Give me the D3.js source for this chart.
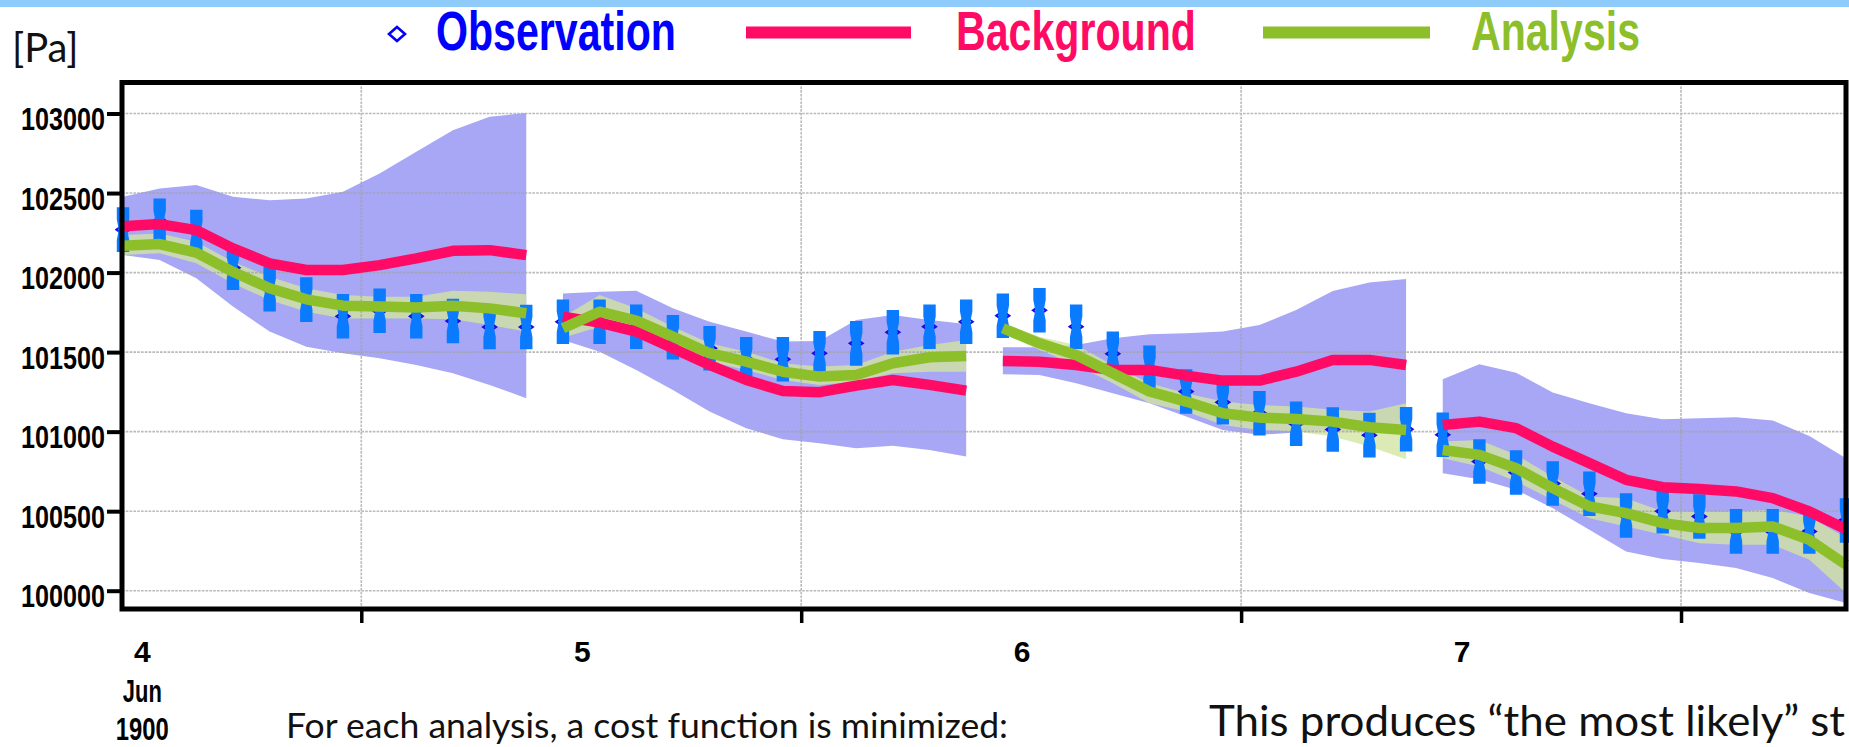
<!DOCTYPE html>
<html>
<head>
<meta charset="utf-8">
<script src="https://cdn.jsdelivr.net/npm/d3@7"></script>
<style>
  html, body { margin: 0; padding: 0; background: #fff; overflow: hidden; }
  svg { display: block; }
</style>
</head>
<body>
<svg id="chart" width="1849" height="747"></svg>
<script>
// Surface pressure [Pa], four 24-hour assimilation windows, one observation every 2 hours.
// Hours are counted from 4 Jun 1900 00:00.
const hours = [-1, 1, 3, 5, 7, 9, 11, 13, 15, 17, 19, 21,
               23, 25, 27, 29, 31, 33, 35, 37, 39, 41, 43, 45,
               47, 49, 51, 53, 55, 57, 59, 61, 63, 65, 67, 69,
               71, 73, 75, 77, 79, 81, 83, 85, 87, 89, 91, 93];
const windowLength = 12;

const observation = [
  102270, 102325, 102255, 102030, 101895, 101830, 101725, 101760, 101725, 101695, 101658, 101658,
  101691, 101691, 101660, 101593, 101524, 101455, 101455, 101493, 101555, 101625, 101660, 101691,
  101729, 101763, 101660, 101490, 101402, 101252, 101185, 101116, 101049, 101013, 100978, 101015,
  100980, 100812, 100743, 100674, 100609, 100473, 100500, 100467, 100373, 100373, 100373, 100442];
const observationError = 140;

const background = [
  102292, 102305, 102267, 102152, 102058, 102016, 102016, 102047, 102089, 102137, 102141, 102110,
  101723, 101685, 101629, 101524, 101419, 101325, 101256, 101248, 101289, 101325, 101294, 101258,
  101444, 101440, 101419, 101388, 101388, 101352, 101321, 101321, 101377, 101451, 101451, 101419,
  101042, 101063, 101022, 100906, 100802, 100697, 100651, 100639, 100624, 100582, 100498, 100387];

const backgroundHigh = [
  102476, 102529, 102550, 102476, 102455, 102466, 102508, 102623, 102759, 102895, 102979, 103004,
  101869, 101880, 101886, 101775, 101691, 101629, 101566, 101570, 101702, 101733, 101702, 101677,
  101530, 101530, 101545, 101587, 101612, 101618, 101629, 101670, 101765, 101884, 101938, 101959,
  101329, 101423, 101371, 101246, 101179, 101116, 101078, 101084, 101091, 101070, 100973, 100833];
const backgroundLow = [
  102110, 102079, 101964, 101786, 101629, 101534, 101493, 101461, 101419, 101367, 101294, 101210,
  101576, 101503, 101388, 101262, 101126, 101022, 100952, 100927, 100896, 100911, 100885, 100844,
  101361, 101356, 101304, 101241, 101179, 101095, 101011, 100980, 100994, 101011, 100994, 101011,
  100739, 100701, 100634, 100519, 100383, 100247, 100199, 100174, 100142, 100080, 99985, 99923];

const analysis = [
  102169, 102179, 102125, 102005, 101901, 101832, 101792, 101786, 101781, 101792, 101775, 101744,
  101650, 101754, 101698, 101597, 101493, 101440, 101377, 101346, 101356, 101430, 101468, 101476,
  101650, 101555, 101482, 101367, 101252, 101189, 101116, 101088, 101080, 101063, 101028, 101011,
  100885, 100854, 100770, 100645, 100530, 100488, 100425, 100394, 100394, 100404, 100320, 100163];

const analysisHigh = [
  102236, 102246, 102194, 102068, 101974, 101901, 101859, 101848, 101848, 101886, 101880, 101863,
  101720, 101859, 101775, 101660, 101555, 101503, 101430, 101409, 101419, 101503, 101545, 101576,
  101681, 101597, 101545, 101419, 101304, 101241, 101189, 101168, 101158, 101137, 101126, 101179,
  100938, 100948, 100854, 100718, 100593, 100582, 100498, 100498, 100498, 100509, 100467, 100331];
const analysisLow = [
  102110, 102121, 102058, 101932, 101827, 101754, 101712, 101712, 101712, 101706, 101670, 101629,
  101590, 101660, 101608, 101513, 101440, 101388, 101325, 101294, 101315, 101367, 101377, 101377,
  101618, 101513, 101419, 101304, 101179, 101126, 101042, 101011, 101001, 100969, 100906, 100827,
  100833, 100781, 100687, 100571, 100456, 100404, 100352, 100299, 100289, 100289, 100195, 99985];

const pressureTicks = [100000, 100500, 101000, 101500, 102000, 102500, 103000];
const noonHours = [12, 36, 60, 84];
const dayHours = [0, 24, 48, 72];
const dayLabels = ["4", "5", "6", "7"];
const monthLabel = "Jun";
const yearLabel = "1900";

const legendItems = ["Observation", "Background", "Analysis"];

// colours
const C = {
  obs: "#0000ff",
  bar: "#0a7bff",
  bg: "#ff0a64",
  an: "#8dbf2a",
  bgBand: "#a7a7f6",
  anBand: "rgba(210,228,160,0.78)",
  grid: "#a3a3a3"
};

const svg = d3.select("#chart");
const W = 1849;

// frame
const frameLeft = 122, frameRight = 1846, frameTop = 82.5, frameBottom = 609;
const x = d3.scaleLinear().domain([-1, 93]).range([123, 1846]);
const y = d3.scaleLinear().domain([99885, 103195]).range([frameBottom, frameTop]);

// top rule of the slide
svg.append("rect").attr("x", 0).attr("y", 0).attr("width", W).attr("height", 7).attr("fill", "#8ecbfb");

const windows = d3.range(hours.length / windowLength)
  .map(w => d3.range(w * windowLength, (w + 1) * windowLength));

// background spread band
const band = (lo, hi) => d3.area().x(i => x(hours[i])).y0(i => y(lo[i])).y1(i => y(hi[i]));
svg.append("g").selectAll("path").data(windows).join("path")
  .attr("d", band(backgroundLow, backgroundHigh)).attr("fill", C.bgBand);

// analysis spread band
svg.append("g").selectAll("path").data(windows).join("path")
  .attr("d", band(analysisLow, analysisHigh)).attr("fill", C.anBand);

// grid
const grid = svg.append("g").attr("stroke", C.grid).attr("stroke-width", 1.6)
  .attr("stroke-dasharray", "2.6,1.2").attr("opacity", 0.75);
grid.selectAll("line.h").data(pressureTicks).join("line").attr("class", "h")
  .attr("x1", frameLeft).attr("x2", frameRight).attr("y1", d => y(d)).attr("y2", d => y(d));
grid.selectAll("line.v").data(noonHours).join("line").attr("class", "v")
  .attr("x1", d => x(d)).attr("x2", d => x(d)).attr("y1", frameTop).attr("y2", frameBottom);

// observation markers (hollow diamonds) under the error bars
const gObs = svg.append("g");
gObs.selectAll("path.mk").data(observation).join("path").attr("class", "mk")
  .attr("d", (d, i) => {
    const cx = x(hours[i]), cy = y(d);
    return `M${cx - 6.6},${cy}L${cx},${cy - 4.5}L${cx + 6.6},${cy}L${cx},${cy + 4.5}Z`;
  })
  .attr("fill", "none").attr("stroke", "#1010e8").attr("stroke-width", 2);

// error bars: wide ends pinched at the observed value
function barPath(cx, y0, y1) {
  const h = y1 - y0, w = 6.2, p = 4.2, mid = (y0 + y1) / 2, s = h * 0.27;
  return `M${cx - w},${y0}H${cx + w}V${y0 + s}L${cx + p},${mid}L${cx + w},${y1 - s}V${y1}` +
         `H${cx - w}V${y1 - s}L${cx - p},${mid}L${cx - w},${y0 + s}Z`;
}
gObs.selectAll("path.bar").data(observation).join("path").attr("class", "bar")
  .attr("d", (d, i) => barPath(x(hours[i]), y(d + observationError), y(d - observationError)))
  .attr("fill", C.bar);

// background and analysis trajectories
const line = vals => d3.line().x(i => x(hours[i])).y(i => y(vals[i]));
svg.append("g").selectAll("path").data(windows).join("path")
  .attr("d", line(background)).attr("fill", "none").attr("stroke", C.bg)
  .attr("stroke-width", 10.5).attr("stroke-linejoin", "round");
svg.append("g").selectAll("path").data(windows).join("path")
  .attr("d", line(analysis)).attr("fill", "none").attr("stroke", C.an)
  .attr("stroke-width", 10.5).attr("stroke-linejoin", "round");

// axes
const axisFont = "'Liberation Sans', Arial, sans-serif";
const yAxis = svg.append("g").attr("transform", `translate(${frameLeft},0)`)
  .call(d3.axisLeft(y).tickValues(pressureTicks).tickSize(15).tickPadding(3).tickFormat(d3.format("d")));
yAxis.select(".domain").remove();
yAxis.selectAll(".tick line").attr("stroke", "#000").attr("stroke-width", 4);
yAxis.selectAll(".tick text")
  .attr("font-family", axisFont).attr("font-weight", "bold").attr("font-size", 31)
  .attr("fill", "#000").attr("dy", "0.52em").attr("x", -17)
  .attr("textLength", 84).attr("lengthAdjust", "spacingAndGlyphs");

const xAxis = svg.append("g").attr("transform", `translate(0,${frameBottom})`)
  .call(d3.axisBottom(x).tickValues(noonHours).tickSize(14).tickFormat(""));
xAxis.select(".domain").remove();
xAxis.selectAll(".tick line").attr("stroke", "#000").attr("stroke-width", 3.5);

// plot frame
svg.append("rect").attr("x", frameLeft).attr("y", frameTop)
  .attr("width", frameRight - frameLeft).attr("height", frameBottom - frameTop)
  .attr("fill", "none").attr("stroke", "#000").attr("stroke-width", 5);

// day labels
const dayG = svg.append("g").attr("font-family", axisFont).attr("font-weight", "bold")
  .attr("text-anchor", "middle").attr("fill", "#000");
dayG.selectAll("text.day").data(dayHours).join("text").attr("class", "day")
  .attr("x", d => x(d) + 1).attr("y", 662).attr("font-size", 30).text((d, i) => dayLabels[i]);
dayG.append("text").attr("x", x(dayHours[0]) + 1).attr("y", 702).attr("font-size", 31)
  .attr("textLength", 39).attr("lengthAdjust", "spacingAndGlyphs").text(monthLabel);
dayG.append("text").attr("x", x(dayHours[0]) + 1).attr("y", 740).attr("font-size", 31)
  .attr("textLength", 53).attr("lengthAdjust", "spacingAndGlyphs").text(yearLabel);

// unit
svg.append("text").attr("x", 12).attr("y", 62).attr("font-family", "Lato, 'Open Sans', sans-serif")
  .attr("font-size", 40).attr("fill", "#111").text("[Pa]");

// legend
const lg = svg.append("g").attr("font-family", axisFont).attr("font-weight", "bold").attr("font-size", 56);
lg.append("path").attr("d", "M389,34L397,27L405,34L397,41Z").attr("fill", "#fff")
  .attr("stroke", C.obs).attr("stroke-width", 2.6);
lg.append("text").attr("x", 436).attr("y", 50).attr("fill", C.obs)
  .attr("textLength", 240).attr("lengthAdjust", "spacingAndGlyphs").text(legendItems[0]);
lg.append("line").attr("x1", 746).attr("x2", 911).attr("y1", 32.5).attr("y2", 32.5)
  .attr("stroke", C.bg).attr("stroke-width", 12);
lg.append("text").attr("x", 956).attr("y", 50).attr("fill", C.bg)
  .attr("textLength", 240).attr("lengthAdjust", "spacingAndGlyphs").text(legendItems[1]);
lg.append("line").attr("x1", 1263).attr("x2", 1430).attr("y1", 32.5).attr("y2", 32.5)
  .attr("stroke", C.an).attr("stroke-width", 12);
lg.append("text").attr("x", 1471).attr("y", 50).attr("fill", C.an)
  .attr("textLength", 169).attr("lengthAdjust", "spacingAndGlyphs").text(legendItems[2]);

// caption lines below the chart
const captionFont = "Lato, 'Open Sans', sans-serif";
svg.append("text").attr("x", 286).attr("y", 738).attr("font-family", captionFont)
  .attr("font-size", 34).attr("fill", "#111")
  .attr("textLength", 722).attr("lengthAdjust", "spacingAndGlyphs")
  .text("For each analysis, a cost function is minimized:");
svg.append("text").attr("x", 1209).attr("y", 736).attr("font-family", captionFont)
  .attr("font-size", 42).attr("fill", "#111")
  .attr("textLength", 636).attr("lengthAdjust", "spacingAndGlyphs")
  .text("This produces “the most likely” st");
</script>
</body>
</html>
